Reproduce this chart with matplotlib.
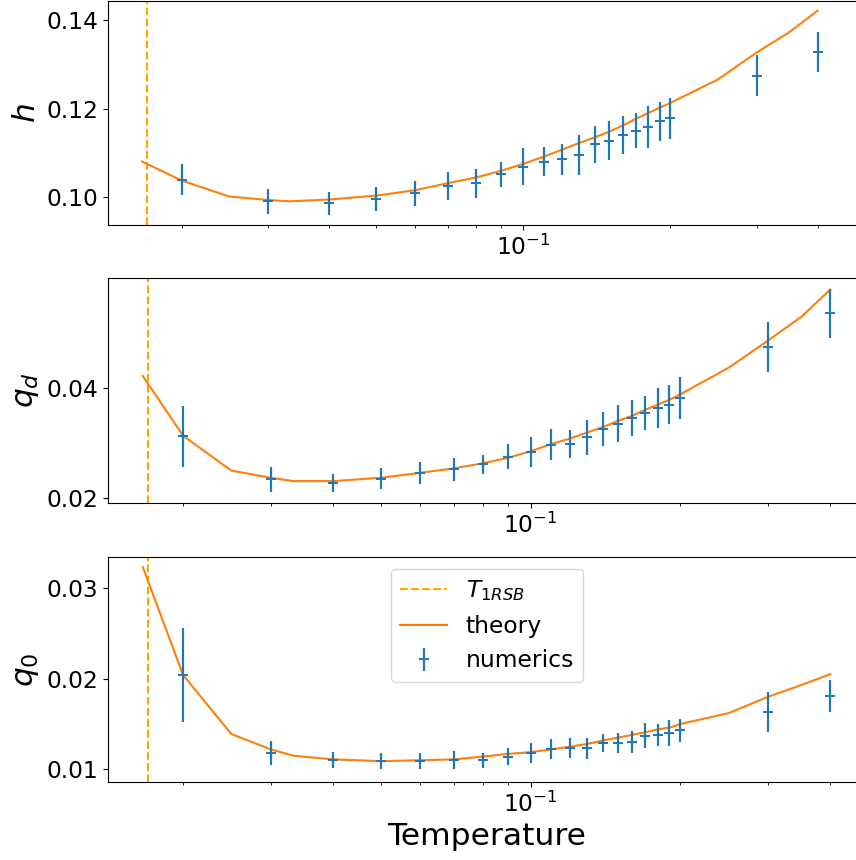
"""
Order parameters h, q_d, q_0 versus temperature: theory curve against
numerics with error bars, 1RSB transition marked.
"""

import matplotlib
matplotlib.use("Agg")
import matplotlib.pyplot as plt


plt.rcParams.update({
    "font.size": 16.8,
    "axes.labelsize": 22.6,
    "xtick.labelsize": 16.8,
    "ytick.labelsize": 16.8,
    "legend.fontsize": 16.8,
})


T_1RSB = 0.017

# numerics
T_NUM = [0.02, 0.03, 0.04, 0.05, 0.06, 0.07, 0.08, 0.09, 0.10, 0.11, 0.12,
         0.13, 0.14, 0.15, 0.16, 0.17, 0.18, 0.19, 0.20, 0.30, 0.40]
H_NUM = [0.1039, 0.0990, 0.0986, 0.0995, 0.1008, 0.1024, 0.1031, 0.1051,
         0.1068, 0.1080, 0.1085, 0.1095, 0.1119, 0.1127, 0.1141, 0.1150,
         0.1158, 0.1171, 0.1178, 0.1275, 0.1328]
H_ERR = [0.0035, 0.0028, 0.0026, 0.0027, 0.0029, 0.0032, 0.0033, 0.0028,
         0.0042, 0.0032, 0.0036, 0.0045, 0.0042, 0.0044, 0.0043, 0.0039,
         0.0048, 0.0045, 0.0047, 0.0047, 0.0046]
QD_NUM = [0.0312, 0.0234, 0.0227, 0.0235, 0.0245, 0.0252, 0.0261, 0.0275,
          0.0284, 0.0297, 0.0298, 0.0310, 0.0325, 0.0335, 0.0345, 0.0354,
          0.0363, 0.0369, 0.0382, 0.0474, 0.0534]
QD_ERR = [0.0055, 0.0022, 0.0016, 0.0019, 0.0020, 0.0020, 0.0017, 0.0023,
          0.0027, 0.0028, 0.0025, 0.0031, 0.0030, 0.0033, 0.0033, 0.0031,
          0.0036, 0.0035, 0.0038, 0.0045, 0.0044]
Q0_NUM = [0.0204, 0.0118, 0.0110, 0.0109, 0.0109, 0.0110, 0.0110, 0.0114,
          0.0118, 0.0122, 0.0124, 0.0123, 0.0129, 0.0129, 0.0130, 0.0137,
          0.0138, 0.0140, 0.0143, 0.0163, 0.0181]
Q0_ERR = [0.0052, 0.0013, 0.0009, 0.0009, 0.0009, 0.0010, 0.0008, 0.0009,
          0.0011, 0.0011, 0.0011, 0.0012, 0.0010, 0.0011, 0.0012, 0.0014,
          0.0012, 0.0014, 0.0013, 0.0022, 0.0018]

# theory
T_TH = [0.0166, 0.02, 0.025, 0.03, 0.0333, 0.04, 0.05, 0.06, 0.07, 0.08,
        0.09, 0.10, 0.11, 0.12, 0.13, 0.14, 0.15, 0.16, 0.17, 0.18, 0.19,
        0.20, 0.25, 0.30, 0.35, 0.40]
H_TH = [0.1080, 0.1037, 0.1001, 0.0993, 0.0990, 0.0994, 0.1003, 0.1015,
        0.1031, 0.1044, 0.1059, 0.1075, 0.1091, 0.1107, 0.1122, 0.1135,
        0.1148, 0.1162, 0.1177, 0.1190, 0.1202, 0.1213, 0.1266, 0.1327,
        0.1373, 0.1422]
QD_TH = [0.0421, 0.0313, 0.0250, 0.0237, 0.0231, 0.0231, 0.0237, 0.0246,
         0.0254, 0.0263, 0.0273, 0.0285, 0.0298, 0.0308, 0.0319, 0.0329,
         0.0340, 0.0349, 0.0360, 0.0369, 0.0378, 0.0388, 0.0436, 0.0485,
         0.0528, 0.0577]
Q0_TH = [0.0323, 0.0204, 0.0139, 0.0122, 0.0115, 0.0111, 0.0109, 0.0110,
         0.0111, 0.0114, 0.0117, 0.0119, 0.0122, 0.0125, 0.0128, 0.0132,
         0.0135, 0.0138, 0.0141, 0.0144, 0.0146, 0.0150, 0.0162, 0.0180,
         0.0193, 0.0205]


def draw_panel(ax, th, num, err, ylabel, ylim, yticks, xlim):
    vline = ax.axvline(T_1RSB, color="orange", ls="--", lw=1.5, label=r"$T_{1RSB}$")
    line, = ax.plot(T_TH, th, color="C1", lw=1.5, label="theory")
    eb = ax.errorbar(T_NUM, num, yerr=err, fmt="+", color="C0", ms=7, mew=1.4,
                     elinewidth=1.6, label="numerics")
    ax.set_xscale("log")
    ax.set_xlim(*xlim)
    ax.set_ylim(*ylim)
    ax.set_yticks(yticks)
    ax.set_ylabel(ylabel)
    return vline, line, eb


def main() -> None:
    fig = plt.figure(figsize=(8.56, 8.60), dpi=100)
    left, width, height = 0.1262, 0.8855, 0.2612

    ax1 = fig.add_axes([left, 0.7382, width, height])
    ax2 = fig.add_axes([left, 0.4155, width, height])
    ax3 = fig.add_axes([left, 0.0910, width, height])

    draw_panel(ax1, H_TH, H_NUM, H_ERR, "$h$", (0.0936, 0.1445),
               [0.10, 0.12, 0.14], (0.01413, 0.5026))
    draw_panel(ax2, QD_TH, QD_NUM, QD_ERR, "$q_d$", (0.0192, 0.0598),
               [0.02, 0.04], (0.01413, 0.4721))
    handles = draw_panel(ax3, Q0_TH, Q0_NUM, Q0_ERR, "$q_0$", (0.00863, 0.03341),
                         [0.01, 0.02, 0.03], (0.01413, 0.4721))

    ax3.set_xlabel("Temperature")
    ax3.legend(handles=list(handles), loc="upper center")

    fig.savefig("out.png", dpi=100)
    plt.close(fig)


if __name__ == "__main__":
    main()
